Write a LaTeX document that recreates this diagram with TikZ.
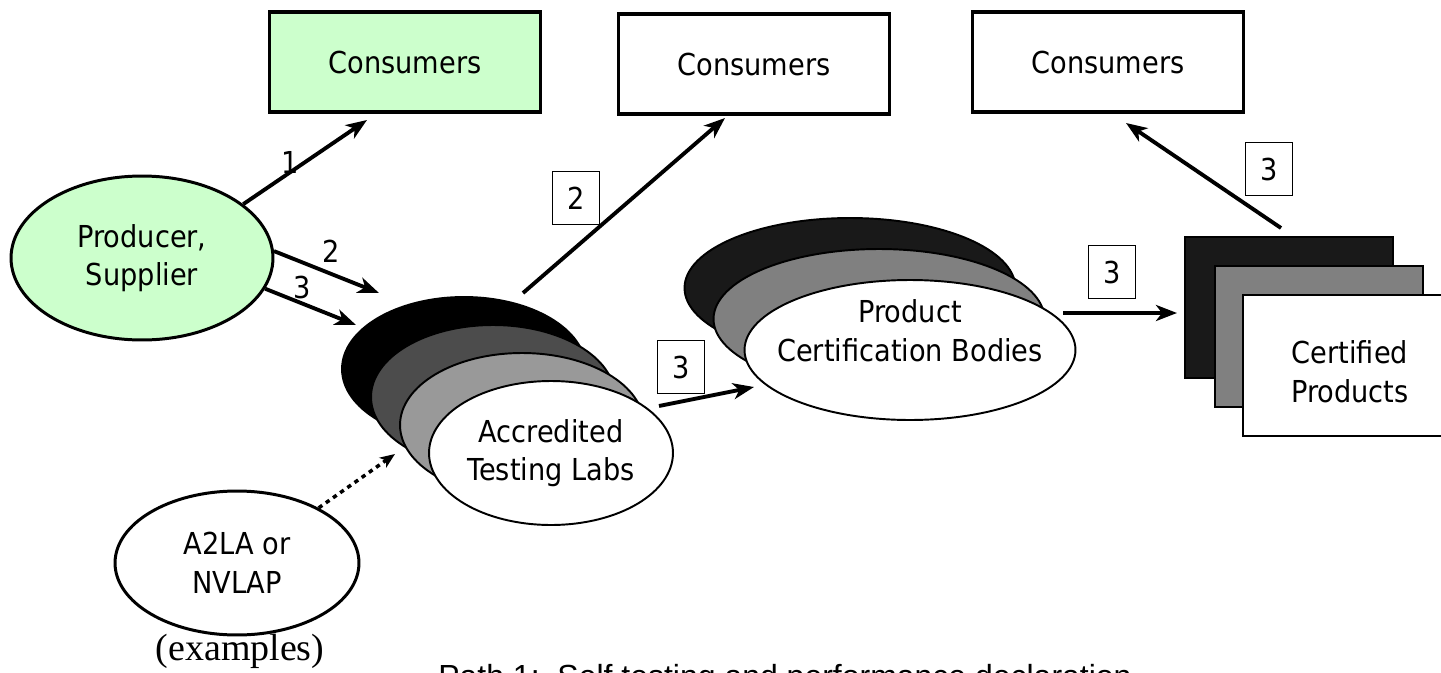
\documentclass[tikz,border=0pt]{standalone}
\usepackage{fontspec}
\setmainfont{DejaVu Sans}[FakeStretch=0.9]
\newfontfamily\serifex{Liberation Serif}
\newfontfamily\pathfont{Liberation Sans}
\usetikzlibrary{shapes.geometric,arrows.meta}

\tikzset{
    consbox/.style={draw, line width=2.2pt, minimum width=5.42cm, minimum height=2cm},
    labsell/.style={ellipse, draw, line width=1.1pt, minimum width=4.88cm,
        minimum height=2.88cm, align=center, inner sep=0pt},
    certell/.style={ellipse, draw, line width=1.1pt, minimum width=6.62cm,
        minimum height=2.8cm, inner sep=0pt},
    prodrect/.style={draw, line width=1.1pt, minimum width=4.16cm, minimum height=2.82cm},
    numbox/.style={draw, line width=0.7pt, minimum width=0.94cm, minimum height=1.06cm,
        inner sep=0pt},
    flow/.style={line width=2.2pt, -{Stealth[length=0.42cm, width=0.32cm, inset=0.12cm]}},
    accflow/.style={line width=2pt, dash pattern=on 2.5pt off 2.5pt,
        -{Stealth[length=0.3cm, width=0.24cm, inset=0.08cm]}}
}

\begin{document}
\begin{tikzpicture}[x=0.02cm, y=-0.02cm, font=\fontsize{17.2pt}{22pt}\selectfont]
    \useasboundingbox (0,0) rectangle (1441,673);

    % consumers on top
    \node[consbox, fill=green!20] (cons1) at (405,62) {Consumers};
    \node[consbox] (cons2) at (754,64) {Consumers};
    \node[consbox] (cons3) at (1108,62) {Consumers};

    \node[ellipse, draw, line width=1.7pt, fill=green!20, minimum width=5.24cm,
        minimum height=3.28cm, align=center] (prod) at (142,258) {Producer,\\Supplier};

    % testing labs
    \node[labsell, fill=black] (labsA) at (464,369) {};
    \node[labsell, fill=black!70] (labsB) at (493,397) {};
    \node[labsell, fill=black!40] (labsC) at (522,425) {};
    \node[labsell, fill=white] (labs) at (551,453) {Accredited\\Testing Labs};

    % certification bodies
    \node[certell, fill=black!90] (certA) at (850,288) {};
    \node[certell, fill=black!50] (certB) at (879,319) {};
    \node[certell, fill=white] (cert) at (910,350) {};
    \node[align=center] (certtext) at (910,331) {Product\\Certification Bodies};

    % certified products
    \node[prodrect, fill=black!90] (itemsA) at (1289,307.5) {};
    \node[prodrect, fill=black!50] (itemsB) at (1319,336.5) {};
    \node[prodrect, fill=white] (items) at (1347,365.5) {};
    \node[align=center] (itemstext) at (1350,372) {Certified\\Products};

    \node[ellipse, draw, line width=1.7pt, minimum width=4.88cm, minimum height=2.88cm,
        align=center] (a2la) at (237,563) {A2LA or\\NVLAP};
    \node[font=\serifex\fontsize{21.6pt}{22pt}\selectfont] (examples) at (240,651) {(examples)};

    \coordinate (c1end) at (367,120);
    \coordinate (p2end) at (379,293);
    \coordinate (p3end) at (356,325);
    \coordinate (l2start) at (523,293);
    \coordinate (c2end) at (725,118);
    \coordinate (l3start) at (659,406);
    \coordinate (l3end) at (754,387);
    \coordinate (c3start) at (1063,313);
    \coordinate (c3end) at (1177,313);
    \coordinate (i3start) at (1281,228);
    \coordinate (i3end) at (1126,123);
    \coordinate (accend) at (395,454);

    \draw[flow] (prod.28) -- (c1end);
    \draw[flow] (prod.3) -- (p2end);
    \draw[flow] (prod.-14) -- (p3end);
    \draw[flow] (l2start) -- (c2end);
    \draw[flow] (l3start) -- (l3end);
    \draw[flow] (c3start) -- (c3end);
    \draw[flow] (i3start) -- (i3end);
    \draw[accflow] (a2la.34) -- (accend);

    \node (n1) at (290,162) {1};
    \node (n2) at (331,251) {2};
    \node (n3) at (302,287) {3};
    \node[numbox] (nb2) at (576,198) {2};
    \node[numbox] (nb3a) at (681,367) {3};
    \node[numbox] (nb3b) at (1112,272) {3};
    \node[numbox] (nb3c) at (1269,169) {3};

    \node[anchor=north west, inner sep=0pt, font=\pathfont\fontsize{18.2pt}{20pt}\selectfont]
        (pathnote) at (438,664) {Path 1:\ \ Self testing and performance declaration};
\end{tikzpicture}
\end{document}
